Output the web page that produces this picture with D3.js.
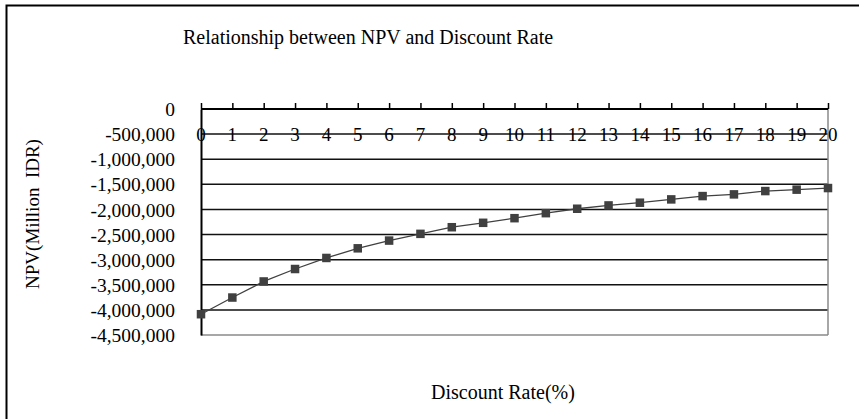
<!DOCTYPE html>
<html>
<head>
<meta charset="utf-8">
<script src="https://cdn.jsdelivr.net/npm/d3@7"></script>
<style>
  body { margin: 0; background: #fff; }
  svg { display: block; }
  text { font-family: "Liberation Serif", "Times New Roman", serif; fill: #000; }
</style>
</head>
<body>
<svg id="chart" width="859" height="419"></svg>
<script>
// Data
const rates = [0,1,2,3,4,5,6,7,8,9,10,11,12,13,14,15,16,17,18,19,20];
const npv = [-4086000,-3754000,-3434000,-3186000,-2966000,-2774000,-2620000,-2486000,-2354000,-2266000,-2174000,-2074000,-1986000,-1920000,-1866000,-1800000,-1734000,-1700000,-1634000,-1606000,-1574000];
const yTicks = [0,-500000,-1000000,-1500000,-2000000,-2500000,-3000000,-3500000,-4000000,-4500000];
const titleText = "Relationship between NPV and Discount Rate";
const xTitle = "Discount Rate(%)";
const yTitle = "NPV(Million\u00a0\u00a0IDR)";

const svg = d3.select("#chart");
const W = 859, H = 419;
const plot = {left: 201, right: 828, top: 109, bottom: 335};

// outer frame
svg.append("rect").attr("x", 6.5).attr("y", 5.5).attr("width", W + 10).attr("height", H + 10)
  .attr("fill", "none").attr("stroke", "#000").attr("stroke-width", 2);

const x = d3.scaleLinear().domain([0, 20]).range([plot.left, plot.right]);
const y = d3.scaleLinear().domain([0, -4500000]).range([plot.top, plot.bottom]);

// gridlines
svg.append("g").selectAll("line").data(yTicks.filter(v => v !== 0 && v !== -4500000)).join("line")
  .attr("x1", plot.left).attr("x2", plot.right)
  .attr("y1", d => y(d)).attr("y2", d => y(d))
  .attr("stroke", "#111").attr("stroke-width", 1.5);

// plot border right & bottom (grey)
svg.append("line").attr("x1", plot.right).attr("x2", plot.right).attr("y1", plot.top).attr("y2", plot.bottom)
  .attr("stroke", "#8a8a8a").attr("stroke-width", 1.5);
svg.append("line").attr("x1", plot.left).attr("x2", plot.right).attr("y1", plot.bottom).attr("y2", plot.bottom)
  .attr("stroke", "#8a8a8a").attr("stroke-width", 1.5);

// Y axis
const yAxis = d3.axisLeft(y).tickValues(yTicks).tickSize(0).tickPadding(26)
  .tickFormat(d => d3.format(",")(d).replace("\u2212", "-"));
const yg = svg.append("g").attr("transform", `translate(${plot.left},0)`).call(yAxis);
yg.select(".domain").attr("stroke", "#000").attr("stroke-width", 2);
yg.selectAll("text").style("font-size", "19.5px").style("font-family", '"Liberation Serif", serif').attr("dy", "0.34em");

// X axis at y=0, ticks upward, labels below
const xAxis = d3.axisTop(x).tickValues(rates).tickSize(6).tickFormat("");
const xg = svg.append("g").attr("transform", `translate(0,${y(0)})`).call(xAxis);
xg.select(".domain").attr("stroke", "#000").attr("stroke-width", 2).attr("d", `M${plot.left},0H${plot.right}`);
xg.selectAll(".tick line").attr("stroke", "#000").attr("stroke-width", 1.5);

svg.append("g").selectAll("text").data(rates).join("text")
  .attr("x", d => x(d)).attr("y", y(0) + 32)
  .attr("text-anchor", "middle").style("font-size", "19px")
  .text(d => d);

// line
const line = d3.line().x((d, i) => x(rates[i])).y(d => y(d));
svg.append("path").datum(npv).attr("d", line)
  .attr("fill", "none").attr("stroke", "#404040").attr("stroke-width", 1.3);

// markers
const ms = 8.5;
svg.append("g").selectAll("rect").data(npv).join("rect")
  .attr("x", (d, i) => x(rates[i]) - ms / 2).attr("y", d => y(d) - ms / 2)
  .attr("width", ms).attr("height", ms).attr("fill", "#404040");

// titles
svg.append("text").attr("x", 183).attr("y", 44).style("font-size", "20px").text(titleText);
svg.append("text").attr("x", 503).attr("y", 399).attr("text-anchor", "middle").style("font-size", "20px").text(xTitle);
svg.append("text").attr("transform", "translate(39,214) rotate(-90)").attr("text-anchor", "middle")
  .style("font-size", "19px").text(yTitle);
</script>
</body>
</html>
